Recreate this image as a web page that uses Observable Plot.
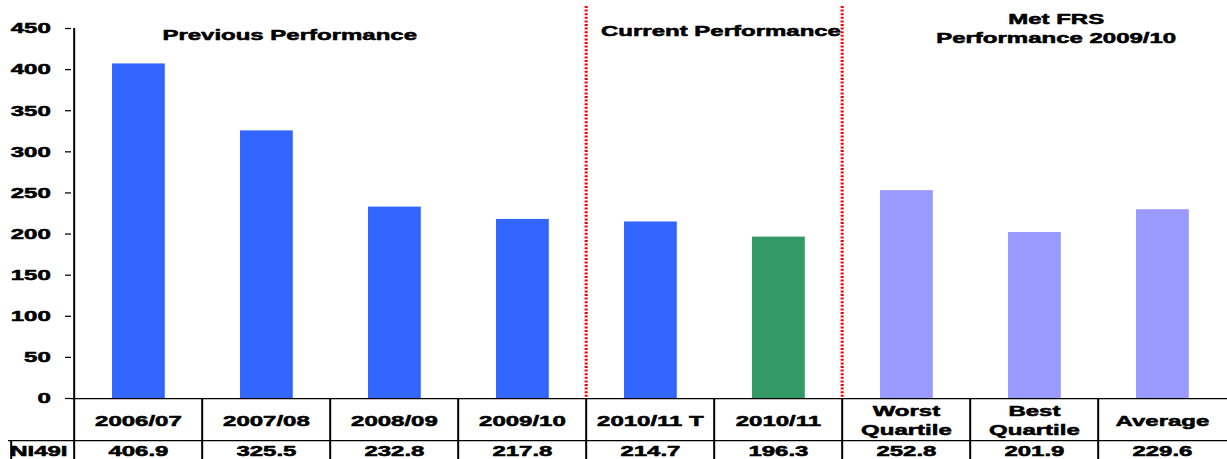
<!DOCTYPE html>
<html>
<head>
<meta charset="utf-8">
<script src="https://cdn.jsdelivr.net/npm/d3@7"></script>
<script src="https://cdn.jsdelivr.net/npm/@observablehq/plot@0.6"></script>
<style>
  html, body { margin: 0; padding: 0; background: #fff; overflow: hidden; }
</style>
</head>
<body>
<div id="chart"></div>
<script>
// ---- data ----
const categories = ["2006/07", "2007/08", "2008/09", "2009/10", "2010/11 T", "2010/11", "Worst\nQuartile", "Best\nQuartile", "Average"];
const values = [406.9, 325.5, 232.8, 217.8, 214.7, 196.3, 252.8, 201.9, 229.6];
const kinds = ["previous", "previous", "previous", "previous", "target", "actual", "benchmark", "benchmark", "benchmark"];
const yTicks = [0, 50, 100, 150, 200, 250, 300, 350, 400, 450];
const headers = ["Previous Performance", "Current Performance", "Met FRS\nPerformance 2009/10"];
const rowLabel = "NI49I";

const rows = categories.map((c, i) => ({category: c, value: values[i], kind: kinds[i]}));

// ---- layout (the source image is horizontally stretched) ----
const K = 1.6;
const W = 1227 / K;
const ML = 71 / K;
const step = (W - ML) / categories.length;
const FONT = "'Liberation Sans', Arial, sans-serif";
const LW = 1.25;
const T = {fontSize: 15, fontWeight: "bold", fill: "#000", stroke: "#000", strokeWidth: 0.55};

const svg = Plot.plot({
  width: W,
  height: 459,
  marginLeft: ML,
  marginRight: 0,
  marginTop: 28,
  marginBottom: 61,
  x: {domain: categories, padding: 0, axis: null},
  y: {domain: [0, 450], axis: null},
  color: {domain: ["previous", "target", "actual", "benchmark"], range: ["#3366ff", "#3366ff", "#339966", "#9999ff"]},
  style: {fontFamily: FONT, fontSize: "15px", fontWeight: "bold", color: "#000", background: "#fff"},
  marks: [
    Plot.barY(rows, {x: "category", y: "value", fill: "kind", insetLeft: 24, insetRight: 23}),
    // y axis
    Plot.axisY({ticks: yTicks, tickSize: 6 / K, tickPadding: 9.4, label: null, fontSize: 15, fontWeight: "bold", strokeWidth: LW, textStroke: "#000", textStrokeWidth: 0.55, tickFormat: d => String(d)}),
    Plot.ruleX([categories[0]], {x: d => d, dx: -step / 2, insetBottom: -61, strokeWidth: LW}),
    // baseline and table lines
    Plot.ruleY([0], {strokeWidth: LW}),
    Plot.ruleY([0], {dy: 42, insetLeft: -(63 / K), strokeWidth: LW}),
    Plot.ruleX(categories.slice(1), {x: d => d, dx: -step / 2, insetTop: 370, insetBottom: -61, strokeWidth: LW}),
    Plot.ruleX([categories[0]], {x: d => d, dx: -step / 2 - 63 / K, insetTop: 412, insetBottom: -61, strokeWidth: LW}),
    // red dotted separators
    Plot.ruleX([categories[4], categories[6]], {x: d => d, dx: -step / 2, insetTop: -22, stroke: "#ff0000", strokeWidth: 1.9, strokeDasharray: "2,1.6"}),
    // table text
    Plot.text(rows, {x: "category", text: "category", frameAnchor: "bottom", dy: 21, lineAnchor: "middle", lineHeight: 1.27, ...T}),
    Plot.text(rows, {x: "category", text: d => d.value.toFixed(1), frameAnchor: "bottom", dy: 53, lineAnchor: "middle", ...T}),
    Plot.text([rowLabel], {text: d => d, frameAnchor: "bottom-left", dx: -20.6, dy: 53, lineAnchor: "middle", textAnchor: "middle", ...T}),
    // group headers
    Plot.text([headers[0]], {x: () => categories[1], text: d => d, frameAnchor: "top", dx: 23.3 / K, dy: 7, lineAnchor: "middle", ...T}),
    Plot.text([headers[1]], {x: () => categories[4], text: d => d, frameAnchor: "top", dx: 70.6 / K, dy: 3, lineAnchor: "middle", ...T}),
    Plot.text([headers[2]], {x: () => categories[7], text: d => d, frameAnchor: "top", dx: 21.8 / K, dy: -1, lineAnchor: "middle", lineHeight: 1.3, ...T})
  ]
});

svg.setAttribute("width", 1227);
svg.setAttribute("height", 459);
svg.setAttribute("preserveAspectRatio", "none");
svg.style.width = "1227px";
svg.style.height = "459px";
svg.style.maxWidth = "none";
svg.style.display = "block";
svg.style.overflow = "visible";
document.getElementById("chart").appendChild(svg);
</script>
</body>
</html>
